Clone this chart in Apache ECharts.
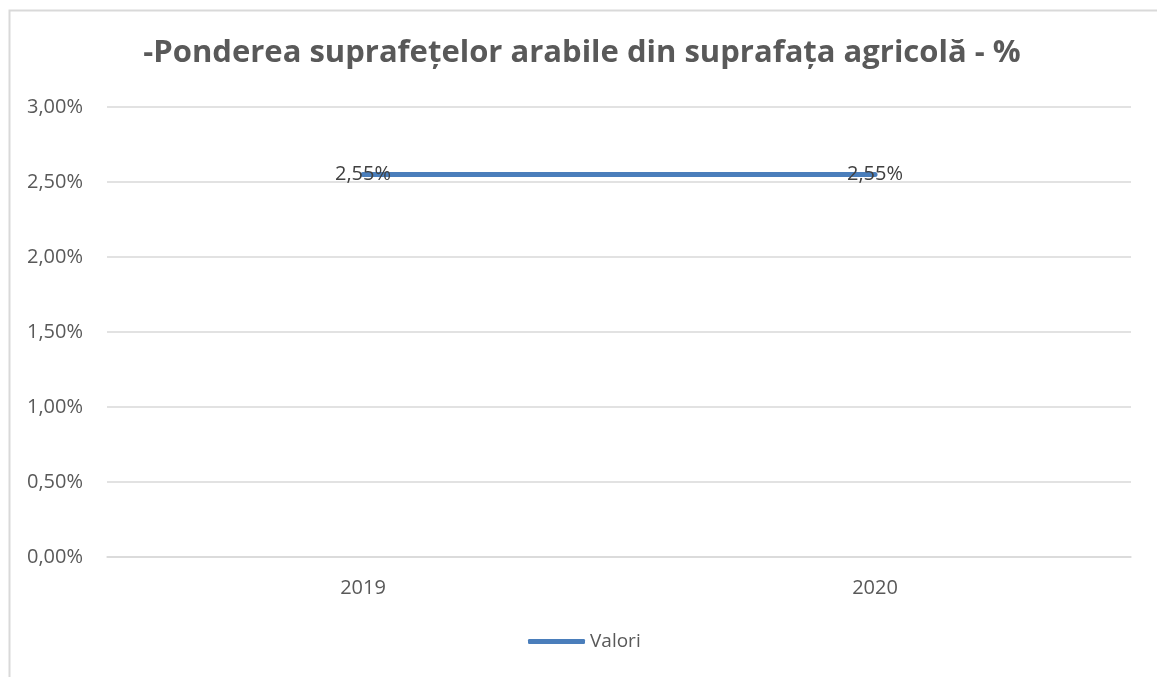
<!DOCTYPE html>
<html>
<head>
<meta charset="utf-8">
<script src="https://cdn.jsdelivr.net/npm/echarts@6/dist/echarts.min.js"></script>
<style>
  html, body { margin: 0; padding: 0; background: #ffffff; }
  #chart { width: 1157px; height: 677px; }
</style>
</head>
<body>
<div id="chart"></div>
<script>
// Share of arable land in agricultural area, by year
const titleText = '-Ponderea suprafețelor arabile din suprafața agricolă - %';
const years = ['2019', '2020'];
const seriesName = 'Valori';
const values = [2.55, 2.55];
const yMin = 0;
const yMax = 3;
const yStep = 0.5;

const fmtPct = v => v.toFixed(2).replace('.', ',') + '%';
const FONT = 'Open Sans, Liberation Sans, sans-serif';

const chart = echarts.init(document.getElementById('chart'), null, { renderer: 'canvas' });
chart.setOption({
  backgroundColor: '#ffffff',
  animation: false,
  graphic: [{
    type: 'rect',
    left: 7, top: 8,
    shape: { width: 1200, height: 720 },
    style: { fill: 'none', stroke: '#d9d9d9', lineWidth: 2 },
    silent: true, z: -1
  }],
  title: {
    text: titleText,
    left: 577, top: 33,
    textAlign: 'center',
    textStyle: { fontFamily: FONT, fontWeight: 'bold', fontSize: 31, color: '#595959' }
  },
  legend: {
    data: [seriesName],
    left: 528, top: 632,
    padding: 0,
    itemWidth: 57, itemHeight: 5,
    itemGap: 3,
    icon: 'roundRect',
    textStyle: { fontFamily: FONT, fontSize: 19, color: '#595959' }
  },
  grid: { left: 107, right: 26, top: 107, bottom: 120, containLabel: false },
  xAxis: {
    type: 'category',
    data: years,
    boundaryGap: true,
    axisLine: { show: true, lineStyle: { color: '#d9d9d9', width: 1.5 } },
    axisTick: { show: false },
    axisLabel: { margin: 21, fontFamily: FONT, fontSize: 20, color: '#595959' }
  },
  yAxis: {
    type: 'value',
    min: yMin, max: yMax, interval: yStep,
    axisLine: { show: false },
    axisTick: { show: false },
    splitLine: { lineStyle: { color: '#d9d9d9', width: 1.5 } },
    axisLabel: { margin: 24, fontFamily: FONT, fontSize: 20, color: '#595959', formatter: fmtPct }
  },
  series: [{
    name: seriesName,
    type: 'line',
    data: values,
    symbol: 'circle',
    symbolSize: 0.1,
    showSymbol: true,
    itemStyle: { color: '#4a7ebb' },
    lineStyle: { color: '#4a7ebb', width: 5, cap: 'round' },
    label: {
      show: true,
      position: 'inside',
      fontFamily: FONT,
      fontSize: 20,
      color: '#404040',
      formatter: p => fmtPct(p.value)
    }
  }]
});
</script>
</body>
</html>
